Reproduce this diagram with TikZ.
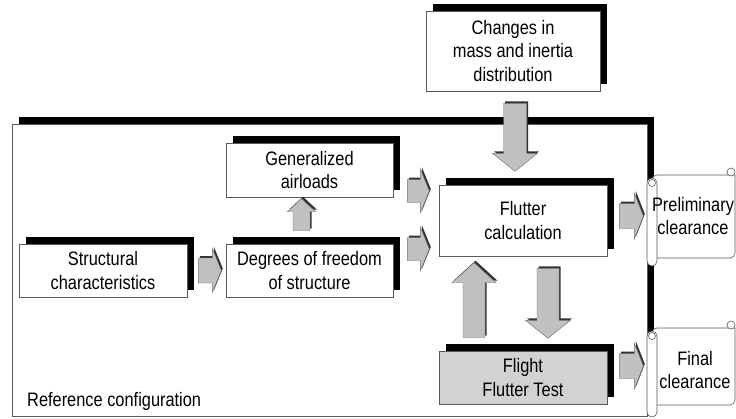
\documentclass[tikz,border=0pt]{standalone}
\usepackage{fontspec}
\setmainfont{Liberation Sans}[FakeStretch=0.84]
\usepackage{tikz}
\usetikzlibrary{calc,shadows}
\definecolor{boxline}{RGB}{90,90,90}
\definecolor{arrowgray}{RGB}{192,192,192}
\definecolor{testgray}{RGB}{210,210,210}

% block arrow: tail, direction, length, shaft half width, head half width, head length
\newcommand{\blockarrow}[6]{%
  \filldraw[flowarrow, shift={#1}, rotate=#2]
    (0,-#4) -- ({#3-#6},-#4) -- ({#3-#6},-#5) -- (#3,0)
    -- ({#3-#6},#5) -- ({#3-#6},#4) -- (0,#4) -- cycle;}

\begin{document}
\begin{tikzpicture}[x=1pt, y=-1pt,
    box/.style={draw=boxline, line width=0.6pt, fill=white, align=center, inner sep=0pt,
      font=\fontsize{19.5}{23.5}\selectfont,
      drop shadow={shadow xshift=7pt, shadow yshift=7pt, fill=black, opacity=1}},
    flowarrow/.style={draw=black!55, line width=0.4pt, fill=arrowgray,
      drop shadow={shadow xshift=1.5pt, shadow yshift=2pt, fill=black!80, opacity=1}},
    scroll/.style={draw=boxline, line width=0.6pt, fill=white},
    scrolltext/.style={font=\fontsize{19.5}{23.5}\selectfont, align=center, inner sep=0pt}
]
\useasboundingbox (0,0) rectangle (736,418);

% reference configuration frame
\node[box, minimum width=635pt, minimum height=292pt] (ref) at (329.5,270) {};
\node[anchor=base west, inner sep=0pt, font=\fontsize{19.5}{23.5}\selectfont] (reflabel) at (27,406) {Reference configuration};

% boxes
\node[box, minimum width=174pt, minimum height=80pt] (changes) at (513,51) {Changes in\\mass and inertia\\distribution};
\node[box, minimum width=167pt, minimum height=54pt] (airloads) at (309.5,170) {Generalized\\airloads};
\node[box, minimum width=167pt, minimum height=53pt] (dof) at (309.5,270.5) {Degrees of freedom\\of structure};
\node[box, minimum width=168pt, minimum height=53pt] (struct) at (103,270.5) {Structural\\characteristics};
\node[box, minimum width=168pt, minimum height=71pt] (flutter) at (523,220.5) {Flutter\\calculation};
\node[box, fill=testgray, minimum width=168pt, minimum height=53pt] (flight) at (523,377.5) {Flight\\Flutter Test};

% clearance scrolls
\draw[scroll] (652,175) -- (735,175) [rounded corners=5pt] -- (735,258) -- (652,258) -- cycle;
\draw[scroll] (731,172) circle (4pt);
\draw[scroll, rounded corners=5pt] (647,178) rectangle (657,266);
\draw[scroll] (652,183) circle (3.5pt);
\node[scrolltext] (prelim) at (693,216) {Preliminary\\clearance};

\draw[scroll] (652,328) -- (735,328) [rounded corners=5pt] -- (735,405) -- (652,405) -- cycle;
\draw[scroll] (731,325) circle (4pt);
\draw[scroll, rounded corners=5pt] (647,331) rectangle (657,417);
\draw[scroll] (652,336) circle (3.5pt);
\node[scrolltext] (final) at (695,370) {Final\\clearance};

% arrows
\blockarrow{($(struct.east)+(11,0)$)}{0}{23}{12.5}{22}{9}
\blockarrow{($(airloads.east)+(14,21)$)}{0}{22}{11.5}{22}{9}
\blockarrow{($(dof.east)+(14,-21.5)$)}{0}{22}{11.5}{22}{9}
\blockarrow{($(flutter.east)+(12,-4.5)$)}{0}{24}{12.5}{23}{9}
\blockarrow{($(flight.east)+(12,-11.5)$)}{0}{24}{12.5}{23}{9}
\blockarrow{($(dof.north)+(-8,-13)$)}{90}{32}{8.5}{14}{13}
\blockarrow{($(changes.south)+(2,12)$)}{-90}{68}{11.5}{22.5}{18}
\blockarrow{($(flight.north)+(-49,-13)$)}{90}{75}{11}{22}{20}
\blockarrow{($(flutter.south)+(25,12)$)}{-90}{70}{11}{22.5}{18}

\end{tikzpicture}
\end{document}
